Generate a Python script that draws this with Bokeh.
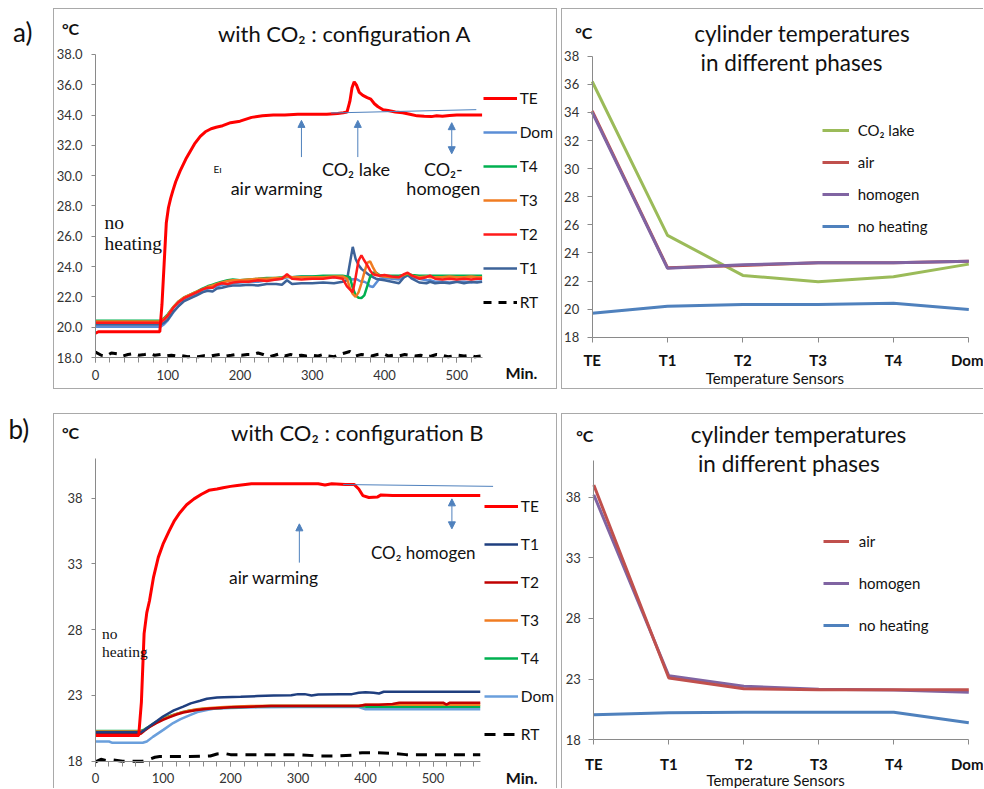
from bokeh.plotting import figure
from bokeh.models import (Range1d, FixedTicker, PrintfTickFormatter, Legend, LegendItem,
                          Label, Arrow, NormalHead, Spacer)
from bokeh.layouts import row, column
from bokeh.embed import file_html
from bokeh.resources import INLINE

# ---------------- data: a) configuration A, time series ----------------
TE_A_T = [0, 4, 30, 60, 89, 92, 95, 98, 101, 104, 107, 111, 117, 125, 137, 145, 152, 160, 167, 176,
          187, 200, 216, 231, 246, 262, 280, 300, 320, 335, 343, 348, 352, 355, 358, 361, 365, 370, 376, 381,
          386, 391, 398, 405, 415, 425, 435, 445, 455, 465, 472, 480, 490, 500, 515, 535]
TE_A_V = [19.6, 19.7, 19.7, 19.7, 19.7, 21.5, 24.2, 26.9, 27.9, 28.5, 29.0, 29.6, 30.3, 31.1, 32.1, 32.6, 32.9, 33.1, 33.2, 33.3,
          33.5, 33.6, 33.85, 33.95, 34.0, 34.0, 34.05, 34.05, 34.05, 34.1, 34.15, 34.2, 34.9, 35.8, 36.2, 36.0, 35.5, 35.3, 35.15, 35.05,
          34.75, 34.55, 34.35, 34.3, 34.2, 34.15, 34.05, 33.95, 33.92, 33.9, 33.95, 33.92, 33.98, 34.0, 34.0, 34.0]

LOW_A_T = [0, 30, 60, 90, 95, 100, 108, 115, 122, 131,
           140, 148, 155, 162, 168, 175, 183, 190, 200, 212,
           225, 237, 250, 258, 265, 272, 285, 300, 315, 330,
           342, 348, 352, 356, 360, 364, 368, 372, 376, 380,
           384, 388, 393, 400, 410, 420, 427, 432, 438, 448,
           458, 463, 470, 480, 490, 500, 510, 520, 528, 535]
T4_A = [20.43, 20.43, 20.43, 20.43, 20.6, 20.85, 21.35, 21.7, 21.95, 22.15,
        22.35, 22.55, 22.7, 22.8, 22.9, 23.0, 23.1, 23.15, 23.1, 23.15,
        23.2, 23.25, 23.25, 23.3, 23.35, 23.3, 23.35, 23.35, 23.4, 23.4,
        23.4, 23.35, 23.3, 22.6, 22.1, 21.95, 21.93, 22.1, 22.7, 23.3,
        23.6, 23.6, 23.45, 23.4, 23.4, 23.4, 23.45, 23.5, 23.45, 23.4,
        23.4, 23.4, 23.4, 23.4, 23.4, 23.4, 23.4, 23.4, 23.4, 23.4]
T3_A = [20.38, 20.38, 20.38, 20.38, 20.55, 20.8, 21.35, 21.7, 21.95, 22.15,
        22.35, 22.5, 22.65, 22.75, 22.85, 22.95, 23.05, 23.1, 23.1, 23.15,
        23.2, 23.2, 23.25, 23.25, 23.35, 23.3, 23.3, 23.3, 23.3, 23.35,
        23.35, 23.2, 22.6, 22.2, 22.0, 22.3, 22.9, 23.6, 24.25, 24.35,
        23.95, 23.6, 23.4, 23.35, 23.3, 23.3, 23.45, 23.55, 23.4, 23.3,
        23.35, 23.3, 23.3, 23.3, 23.35, 23.3, 23.3, 23.35, 23.3, 23.3]
T2_A = [20.3, 20.3, 20.3, 20.3, 20.5, 20.75, 21.3, 21.65, 21.9, 22.1,
        22.3, 22.5, 22.6, 22.6, 22.8, 22.9, 22.85, 22.95, 23.0, 23.0,
        23.1, 23.05, 23.15, 23.2, 23.5, 23.2, 23.15, 23.2, 23.2, 23.3,
        23.2, 22.7, 22.5, 22.3, 23.3, 24.4, 24.75, 24.4, 24.1, 23.75,
        23.5, 23.45, 23.4, 23.45, 23.35, 23.3, 23.5, 23.6, 23.4, 23.2,
        23.3, 23.4, 23.2, 23.15, 23.2, 23.15, 23.2, 23.15, 23.2, 23.2]
T1_A = [20.18, 20.18, 20.18, 20.18, 20.3, 20.5, 21.05, 21.4, 21.7, 21.9,
        22.1, 22.3, 22.4, 22.35, 22.55, 22.6, 22.7, 22.75, 22.75, 22.8,
        22.75, 22.85, 22.85, 22.8, 23.1, 22.85, 22.9, 22.9, 22.95, 22.9,
        23.0, 23.1, 24.2, 25.3, 24.5, 24.1, 23.85, 23.7, 23.55, 23.4,
        23.3, 23.2, 23.15, 23.1, 23.0, 22.9, 23.3, 23.45, 23.2, 22.95,
        22.9, 23.0, 22.9, 22.95, 22.9, 23.0, 22.9, 23.0, 22.95, 23.0]
DOM_A = [20.03, 20.03, 20.03, 20.03, 20.2, 20.45, 21.0, 21.4, 21.75, 22.0,
         22.2, 22.4, 22.55, 22.6, 22.7, 22.8, 22.85, 22.9, 22.95, 23.0,
         23.0, 23.1, 23.15, 23.2, 23.3, 23.3, 23.35, 23.35, 23.35, 23.3,
         23.3, 23.25, 23.2, 23.15, 23.2, 23.1, 23.0, 23.0, 22.9, 22.7,
         22.65, 22.9, 23.2, 23.25, 23.2, 23.15, 23.3, 23.4, 23.3, 23.2,
         23.1, 23.1, 23.0, 23.0, 22.95, 23.0, 23.0, 22.95, 23.0, 23.0]
RT_A_T = [0, 8, 15, 22, 30, 38, 45, 52, 60, 68, 75, 82, 90, 98, 105, 112, 120, 128, 135, 142,
          150, 158, 165, 172, 180, 188, 195, 202, 210, 218, 225, 232, 240, 248, 255, 262, 270, 278, 285, 292,
          300, 308, 315, 322, 330, 338, 345, 352, 360, 368, 375, 382, 390, 398, 405, 412, 420, 428, 435, 442,
          450, 458, 465, 472, 480, 488, 495, 502, 510, 518, 525, 533]
RT_A_V = [18.35, 18.15, 18.1, 18.3, 18.25, 18.1, 18.2, 18.25, 18.15, 18.2, 18.25, 18.15, 18.2, 18.1, 18.15, 18.1, 18.12, 18.05, 18.1, 18.05,
          18.12, 18.08, 18.15, 18.2, 18.1, 18.15, 18.2, 18.15, 18.2, 18.2, 18.3, 18.2, 18.05, 18.15, 18.25, 18.1, 18.2, 18.1, 18.15, 18.1,
          18.15, 18.1, 18.2, 18.1, 18.05, 18.2, 18.3, 18.4, 18.1, 18.2, 18.15, 18.1, 18.2, 18.25, 18.1, 18.15, 18.1, 18.2, 18.15, 18.1,
          18.15, 18.05, 18.1, 18.2, 18.15, 18.05, 18.1, 18.15, 18.1, 18.15, 18.05, 18.1]
TREND_A_X = [326, 527]
TREND_A_Y = [34.14, 34.36]

# ---------------- data: b) configuration B, time series ----------------
TE_B_T = [0, 30, 64, 68, 72, 76, 80, 86, 93, 100, 109, 117, 125, 135, 146, 157, 168, 180, 189, 200,
          210, 231, 260, 300, 330, 340, 350, 370, 383, 390, 396, 405, 418, 423, 440, 480, 520, 570]
TE_B_V = [19.95, 19.95, 19.95, 22.5, 27.7, 29.3, 30.2, 32.0, 33.5, 34.5, 35.5, 36.3, 36.9, 37.5, 37.95, 38.3, 38.6, 38.7, 38.8, 38.9,
          38.97, 39.1, 39.1, 39.1, 39.1, 39.0, 39.1, 39.05, 39.05, 38.7, 38.2, 38.05, 38.1, 38.25, 38.2, 38.2, 38.2, 38.2]
T1_B_T = [0, 30, 67, 72, 80, 91, 100, 116, 130, 141, 155, 165, 180, 190, 215, 240, 264, 290, 300, 310,
          320, 330, 363, 380, 390, 400, 412, 420, 427, 450, 500, 570]
T1_B_V = [20.2, 20.2, 20.2, 20.35, 20.65, 21.05, 21.4, 21.86, 22.15, 22.4, 22.6, 22.75, 22.85, 22.87, 22.9, 22.95, 23.0, 23.02, 23.1, 23.1,
          23.0, 23.07, 23.1, 23.1, 23.2, 23.25, 23.2, 23.15, 23.28, 23.28, 23.28, 23.28]
LOW_B_T = [0, 67, 72, 80, 90, 100, 110, 120, 130, 140, 150, 160, 170, 185, 200, 230, 260, 300, 350, 390,
           400, 420, 440, 450, 460, 500, 515, 520, 525, 570]
T2_B = [20.08, 20.08, 20.3, 20.6, 20.9, 21.15, 21.35, 21.55, 21.7, 21.8, 21.9, 21.95, 22.0, 22.05, 22.1, 22.15, 22.2, 22.2, 22.2, 22.2,
        22.3, 22.3, 22.35, 22.45, 22.45, 22.45, 22.45, 22.3, 22.45, 22.45]
T3_B = [20.25, 20.25, 20.35, 20.6, 20.95, 21.2, 21.4, 21.6, 21.75, 21.85, 21.95, 22.0, 22.05, 22.1, 22.15, 22.2, 22.22, 22.22, 22.22, 22.22,
        22.3, 22.3, 22.3, 22.3, 22.3, 22.3, 22.3, 22.3, 22.3, 22.3]
T4_B = [20.3, 20.3, 20.4, 20.65, 21.0, 21.25, 21.45, 21.6, 21.75, 21.85, 21.92, 21.98, 22.02, 22.05, 22.1, 22.15, 22.2, 22.2, 22.2, 22.2,
        22.15, 22.15, 22.15, 22.15, 22.15, 22.15, 22.15, 22.15, 22.15, 22.15]
DOM_B_T = [0, 20, 25, 70, 76, 85, 101, 115, 126, 140, 151, 165, 175, 200, 240, 300, 390, 400, 450, 570]
DOM_B_V = [19.5, 19.5, 19.4, 19.4, 19.5, 19.85, 20.4, 20.9, 21.2, 21.5, 21.73, 21.9, 21.98, 22.04, 22.1, 22.12, 22.12, 21.95, 21.95, 21.95]
RT_B_T = [0, 8, 15, 25, 40, 55, 70, 80, 88, 95, 110, 140, 170, 180, 190, 200, 210, 250, 300, 330,
          360, 380, 388, 395, 410, 440, 460, 500, 570]
RT_B_V = [17.95, 18.15, 18.05, 18.1, 18.0, 18.0, 18.0, 18.15, 18.3, 18.35, 18.35, 18.35, 18.4, 18.55, 18.6, 18.5, 18.5, 18.5, 18.5, 18.4,
          18.4, 18.45, 18.6, 18.65, 18.65, 18.6, 18.5, 18.5, 18.5]
TREND_B_X = [367, 589]
TREND_B_Y = [39.04, 38.9]

# ---------------- data: cylinder temperatures by sensor ----------------
SENSORS = ["TE", "T1", "T2", "T3", "T4", "Dom"]
A_CO2_LAKE = [36.2, 25.25, 22.4, 21.95, 22.3, 23.2]
A_AIR = [34.1, 22.95, 23.1, 23.3, 23.3, 23.4]
A_HOMOGEN = [34.0, 22.9, 23.15, 23.3, 23.3, 23.4]
A_NO_HEAT = [19.7, 20.2, 20.33, 20.33, 20.42, 19.98]
B_AIR = [39.0, 23.1, 22.2, 22.12, 22.12, 22.12]
B_HOMOGEN = [38.2, 23.28, 22.42, 22.17, 22.1, 21.93]
B_NO_HEAT = [20.06, 20.22, 20.28, 20.28, 20.28, 19.4]
SX = list(range(len(SENSORS)))

# ---------------- style ----------------
FONT = "Lato"
SERIF = "Liberation Serif"
TXT = "#111111"
AX = "#8a8a8a"
ARROW_C = "#4f81bd"
BOX_C = "#a9a9a9"

C_TE = "#ff0000"
C_DOM = "#5b8ed6"
C_T4 = "#00b050"
C_T3 = "#f07c22"
C_T2A = "#ff1a1a"
C_T1A = "#3d6399"
C_T1B = "#1f3f7f"
C_T2B = "#c00000"
C_DOMB = "#6a9fdc"


def box(sides):
    parts = {"l": f"inset 1px 0 0 0 {BOX_C}", "r": f"inset -1px 0 0 0 {BOX_C}",
             "t": f"inset 0 1px 0 0 {BOX_C}", "b": f"inset 0 -1px 0 0 {BOX_C}"}
    return {"box-shadow": ", ".join(parts[s] for s in sides)}


def bare(p):
    p.title.visible = False
    p.grid.visible = False
    p.outline_line_color = None
    p.border_fill_color = None
    p.background_fill_color = None


def mkfig(w, h, xr, yr, xbounds, ybounds, sides):
    # the plot frame fills the whole figure; axes are pinned at x=0 / y=18
    p = figure(width=w, height=h, x_range=xr, y_range=yr, output_backend="svg",
               toolbar_location=None, min_border=0, min_border_left=0, min_border_right=0,
               min_border_top=0, min_border_bottom=0, styles=box(sides))
    bare(p)
    p.xaxis.fixed_location = 18
    p.yaxis.fixed_location = 0
    p.xaxis.bounds = xbounds
    p.yaxis.bounds = ybounds
    for ax in p.axis:
        ax.axis_line_color = AX
        ax.major_tick_line_color = AX
        ax.minor_tick_line_color = AX
        ax.major_tick_in = 0
        ax.minor_tick_in = 0
        ax.major_tick_out = 5
        ax.minor_tick_out = 5
        ax.major_label_text_font = FONT
        ax.major_label_text_font_size = "13px"
        ax.major_label_text_color = "#333333"
    return p


def tag_fig(h, text, x, y):
    p = figure(width=45, height=h, x_range=Range1d(0, 45), y_range=Range1d(0, h),
               output_backend="svg", toolbar_location=None, min_border=0,
               min_border_left=0, min_border_right=0, min_border_top=0, min_border_bottom=0)
    bare(p)
    p.axis.visible = False
    p.add_layout(Label(x=x, y=y, text=text, text_font=FONT, text_font_size="26px",
                       text_align="left", text_baseline="middle", text_color=TXT))
    return p


def label(p, x, y, text, size, bold=False, align="center", font=FONT):
    p.add_layout(Label(x=x, y=y, text=text, text_font=font, text_font_size=size,
                       text_font_style="bold" if bold else "normal",
                       text_align=align, text_baseline="middle", text_color=TXT))


def arrow(p, x, y0, y1, both=False):
    def head():
        return NormalHead(size=7, fill_color=ARROW_C, line_color=ARROW_C, line_width=1)
    p.add_layout(Arrow(x_start=x, y_start=y0, x_end=x, y_end=y1, end=head(),
                       start=head() if both else None, line_color=ARROW_C, line_width=1))


def legend(p, entries, loc, glyph_w, standoff, spacing, size):
    items = [LegendItem(label=l, renderers=[r]) for l, r in entries]
    lg = Legend(items=items, location=loc, padding=0, margin=0, spacing=spacing,
                glyph_width=glyph_w, glyph_height=20, label_height=20,
                label_standoff=standoff, label_text_font=FONT, label_text_font_size=size,
                label_text_color=TXT, border_line_color=None, background_fill_alpha=0)
    p.add_layout(lg)


# ================= a) left =================
pA1 = mkfig(504, 381, Range1d(-58.12, 639.36), Range1d(15.888, 41.036), (0, 535.6), (18, 38), "lrtb")
pA1.xaxis.ticker = FixedTicker(ticks=[0, 100, 200, 300, 400, 500], minor_ticks=list(range(0, 536, 20)))
pA1.xaxis.major_label_standoff = 7
pA1.yaxis.ticker = FixedTicker(ticks=list(range(18, 39, 2)))
pA1.yaxis.formatter = PrintfTickFormatter(format="%.1f")
pA1.yaxis.major_tick_out = 4
pA1.yaxis.major_label_standoff = 9

rDomA = pA1.line(LOW_A_T, DOM_A, line_color=C_DOM, line_width=2.5)
rT1A = pA1.line(LOW_A_T, T1_A, line_color=C_T1A, line_width=2.5)
rT4A = pA1.line(LOW_A_T, T4_A, line_color=C_T4, line_width=2.5)
rT3A = pA1.line(LOW_A_T, T3_A, line_color=C_T3, line_width=2.5)
rT2A = pA1.line(LOW_A_T, T2_A, line_color=C_T2A, line_width=2.5)
rRTA = pA1.line(RT_A_T, RT_A_V, line_color="black", line_width=3, line_dash="8 7")
rTEA = pA1.line(TE_A_T, TE_A_V, line_color=C_TE, line_width=3)
pA1.line(TREND_A_X, TREND_A_Y, line_color=ARROW_C, line_width=1)

legend(pA1, [("TE", rTEA), ("Dom", rDomA), ("T4", rT4A), ("T3", rT3A), ("T2", rT2A),
             ("T1", rT1A), ("RT", rRTA)], (429.7, 77.5), 34, 3, 14, "15.5px")

label(pA1, -34.6, 39.72, "°C", "16px", bold=True)
label(pA1, 344.6, 39.39, "with CO₂ : configuration A", "22px")
label(pA1, 12.5, 26.93, "no", "19.5px", align="left", font=SERIF)
label(pA1, 12.5, 25.5, "heating", "19.5px", align="left", font=SERIF)
label(pA1, 169, 30.46, "Eı", "10px")
label(pA1, 251, 29.2, "air warming", "18px")
label(pA1, 360.5, 30.46, "CO₂ lake", "18px")
label(pA1, 481.4, 30.46, "CO₂-", "18px")
label(pA1, 481.4, 29.2, "homogen", "18px")
label(pA1, 589.5, 17.03, "Min.", "16px", bold=True)
arrow(pA1, 285, 31.23, 33.65)
arrow(pA1, 363, 31.23, 33.65)
arrow(pA1, 493, 31.45, 33.5, both=True)

# ================= a) right =================
pA2 = mkfig(422, 381, Range1d(-0.4076, 5.1952), Range1d(14.278, 41.395), (0, 5), (18, 38), "ltb")
pA2.xaxis.ticker = FixedTicker(ticks=SX)
pA2.xaxis.major_label_overrides = {i: s for i, s in enumerate(SENSORS)}
pA2.xaxis.major_label_text_font_style = "bold"
pA2.xaxis.major_label_text_font_size = "15px"
pA2.xaxis.major_label_text_color = "#111111"
pA2.xaxis.major_label_standoff = 9
pA2.yaxis.ticker = FixedTicker(ticks=list(range(18, 39, 2)))
pA2.yaxis.major_label_standoff = 8

rNoA = pA2.line(SX, A_NO_HEAT, line_color="#4f81bd", line_width=3)
rLakeA = pA2.line(SX, A_CO2_LAKE, line_color="#9bbb59", line_width=3)
rAirA = pA2.line(SX, A_AIR, line_color="#c0504d", line_width=3)
rHomA = pA2.line(SX, A_HOMOGEN, line_color="#8064a2", line_width=3)
legend(pA2, [("CO₂ lake", rLakeA), ("air", rAirA), ("homogen", rHomA), ("no heating", rNoA)],
       (260.7, 153), 27, 9, 12, "15px")
label(pA2, -0.1115, 39.71, "°C", "16px", bold=True)
label(pA2, 2.788, 39.59, "cylinder temperatures", "22.5px")
label(pA2, 2.646, 37.53, "in different phases", "22.5px")
label(pA2, 2.424, 15.11, "Temperature Sensors", "15px")

# ================= b) left =================
pB1 = mkfig(504, 375, Range1d(-62.22, 684.44), Range1d(15.924, 44.441), (0, 570), (18, 41), "lrt")
pB1.xaxis.ticker = FixedTicker(ticks=[0, 100, 200, 300, 400, 500], minor_ticks=list(range(0, 571, 20)))
pB1.xaxis.major_label_standoff = 7
pB1.yaxis.ticker = FixedTicker(ticks=[18, 23, 28, 33, 38])
pB1.yaxis.major_tick_out = 4
pB1.yaxis.major_label_standoff = 9

rDomB = pB1.line(DOM_B_T, DOM_B_V, line_color=C_DOMB, line_width=2.5)
rT4B = pB1.line(LOW_B_T, T4_B, line_color=C_T4, line_width=2.5)
rT3B = pB1.line(LOW_B_T, T3_B, line_color=C_T3, line_width=2.5)
rT2B = pB1.line(LOW_B_T, T2_B, line_color=C_T2B, line_width=2.5)
rT1B = pB1.line(T1_B_T, T1_B_V, line_color=C_T1B, line_width=2.5)
rRTB = pB1.line(RT_B_T, RT_B_V, line_color="black", line_width=3, line_dash="11 8")
rTEB = pB1.line(TE_B_T, TE_B_V, line_color=C_TE, line_width=3)
pB1.line(TREND_B_X, TREND_B_Y, line_color=ARROW_C, line_width=1)

legend(pB1, [("TE", rTEB), ("T1", rT1B), ("T2", rT2B), ("T3", rT3B), ("T4", rT4B),
             ("Dom", rDomB), ("RT", rRTB)], (430.8, 44.5), 34, 3, 18, "15.5px")

label(pB1, -37.04, 43.02, "°C", "16px", bold=True)
label(pB1, 387.9, 42.97, "with CO₂ : configuration B", "22px")
label(pB1, 9.8, 27.69, "no", "15.5px", align="left", font=SERIF)
label(pB1, 9.8, 26.37, "heating", "15.5px", align="left", font=SERIF)
label(pB1, 264.3, 31.99, "air warming", "17.5px")
label(pB1, 485.6, 33.89, "CO₂ homogen", "17px")
label(pB1, 631.4, 16.78, "Min.", "16px", bold=True)
arrow(pB1, 302, 33.1, 36.05)
arrow(pB1, 528, 35.67, 37.95, both=True)

# ================= b) right =================
pB2 = mkfig(422, 375, Range1d(-0.4307, 5.196), Range1d(13.985, 44.90), (0, 5), (18, 41), "lt")
pB2.xaxis.ticker = FixedTicker(ticks=SX)
pB2.xaxis.major_label_overrides = {i: s for i, s in enumerate(SENSORS)}
pB2.xaxis.major_label_text_font_style = "bold"
pB2.xaxis.major_label_text_font_size = "15px"
pB2.xaxis.major_label_text_color = "#111111"
pB2.xaxis.major_label_standoff = 10
pB2.yaxis.ticker = FixedTicker(ticks=[18, 23, 28, 33, 38])
pB2.yaxis.major_label_standoff = 8

rNoB = pB2.line(SX, B_NO_HEAT, line_color="#4f81bd", line_width=3)
rHomB = pB2.line(SX, B_HOMOGEN, line_color="#8064a2", line_width=3)
rAirB = pB2.line(SX, B_AIR, line_color="#c0504d", line_width=3)
legend(pB2, [("air", rAirB), ("homogen", rHomB), ("no heating", rNoB)],
       (261.7, 153.5), 26, 10, 22, "15px")
label(pB2, -0.12, 43.09, "°C", "16px", bold=True)
label(pB2, 2.733, 43.14, "cylinder temperatures", "22.5px")
label(pB2, 2.6, 40.75, "in different phases", "22.5px")
label(pB2, 2.423, 14.645, "Temperature Sensors", "15px")

# ================= layout =================
tagA = tag_fig(381, "a)", 4.6, 357.3)
tagB = tag_fig(375, "b)", 0.0, 360)

lay = row(
    Spacer(width=8, height=788),
    column(
        Spacer(width=975, height=8),
        row(tagA, pA1, Spacer(width=4, height=381), pA2),
        Spacer(width=975, height=24),
        row(tagB, pB1, Spacer(width=4, height=375), pB2),
    ),
)

open("out.html", "w").write(file_html(lay, INLINE))
